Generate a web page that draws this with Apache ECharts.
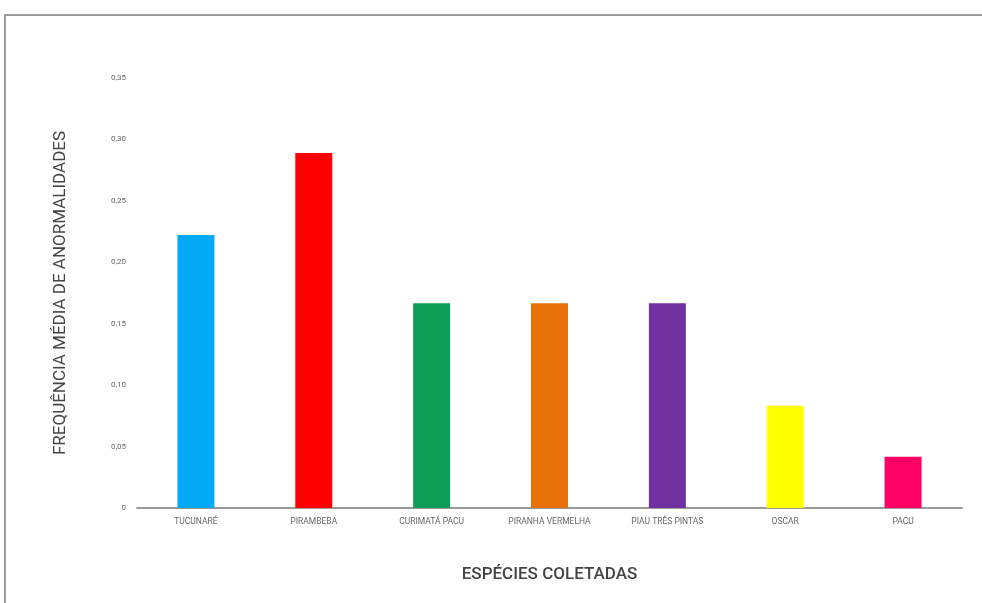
<!DOCTYPE html>
<html><head><meta charset="utf-8">
<script src="https://cdn.jsdelivr.net/npm/echarts@6/dist/echarts.min.js"></script>
<style>html,body{margin:0;padding:0;background:#fff}#c{width:982px;height:603px}</style>
</head><body><div id="c"></div>
<script>
const categories = ["TUCUNARÉ","PIRAMBEBA","CURIMATÁ PACU","PIRANHA VERMELHA","PIAU TRÊS PINTAS","OSCAR","PACU"];
const values = [0.2222, 0.2889, 0.1667, 0.1667, 0.1667, 0.0833, 0.0417];
const colors = ["#03a9f4","#ff0000","#0f9d58","#e8710a","#7030a0","#ffff00","#ff0066"];
const yTicks = [0, 0.05, 0.10, 0.15, 0.20, 0.25, 0.30, 0.35];
const chart = echarts.init(document.getElementById('c'), null, {renderer:'canvas'});
chart.setOption({
  animation:false,
  backgroundColor:'#fff',
  grid:{left:137, right:20, top:78, bottom:95, containLabel:false},
  graphic:[
    {type:'line', shape:{x1:4, y1:15, x2:982, y2:15}, style:{stroke:'#9a9a9a', lineWidth:2}},
    {type:'line', shape:{x1:5, y1:14, x2:5, y2:603}, style:{stroke:'#9a9a9a', lineWidth:2}}
  ],
  xAxis:{
    type:'category', data:categories,
    axisLine:{lineStyle:{color:'#9a9a9a', width:2}},
    axisTick:{show:false},
    axisLabel:{color:'#666', fontSize:8.5, fontFamily:'Roboto', margin:9},
    name:'ESPÉCIES COLETADAS', nameLocation:'middle', nameGap:58,
    nameTextStyle:{color:'#444', fontSize:17, fontWeight:500, fontFamily:'Roboto'}
  },
  yAxis:{
    type:'value', min:0, max:0.35, interval:0.05,
    axisLine:{show:false}, axisTick:{show:false}, splitLine:{show:false},
    axisLabel:{color:'#666', fontSize:8, fontFamily:'Roboto', margin:11,
      formatter:v=>{ if(v===0) return '0'; return v.toFixed(2).replace('.',','); }},
    name:'FREQUÊNCIA MÉDIA DE ANORMALIDADES', nameLocation:'middle', nameGap:68, nameRotate:90,
    nameTextStyle:{color:'#444', fontSize:17, fontFamily:'Roboto'}
  },
  series:[{
    type:'bar', barWidth:37,
    data: values.map((v,i)=>({value:v, itemStyle:{color:colors[i]}}))
  }]
});
</script></body></html>
